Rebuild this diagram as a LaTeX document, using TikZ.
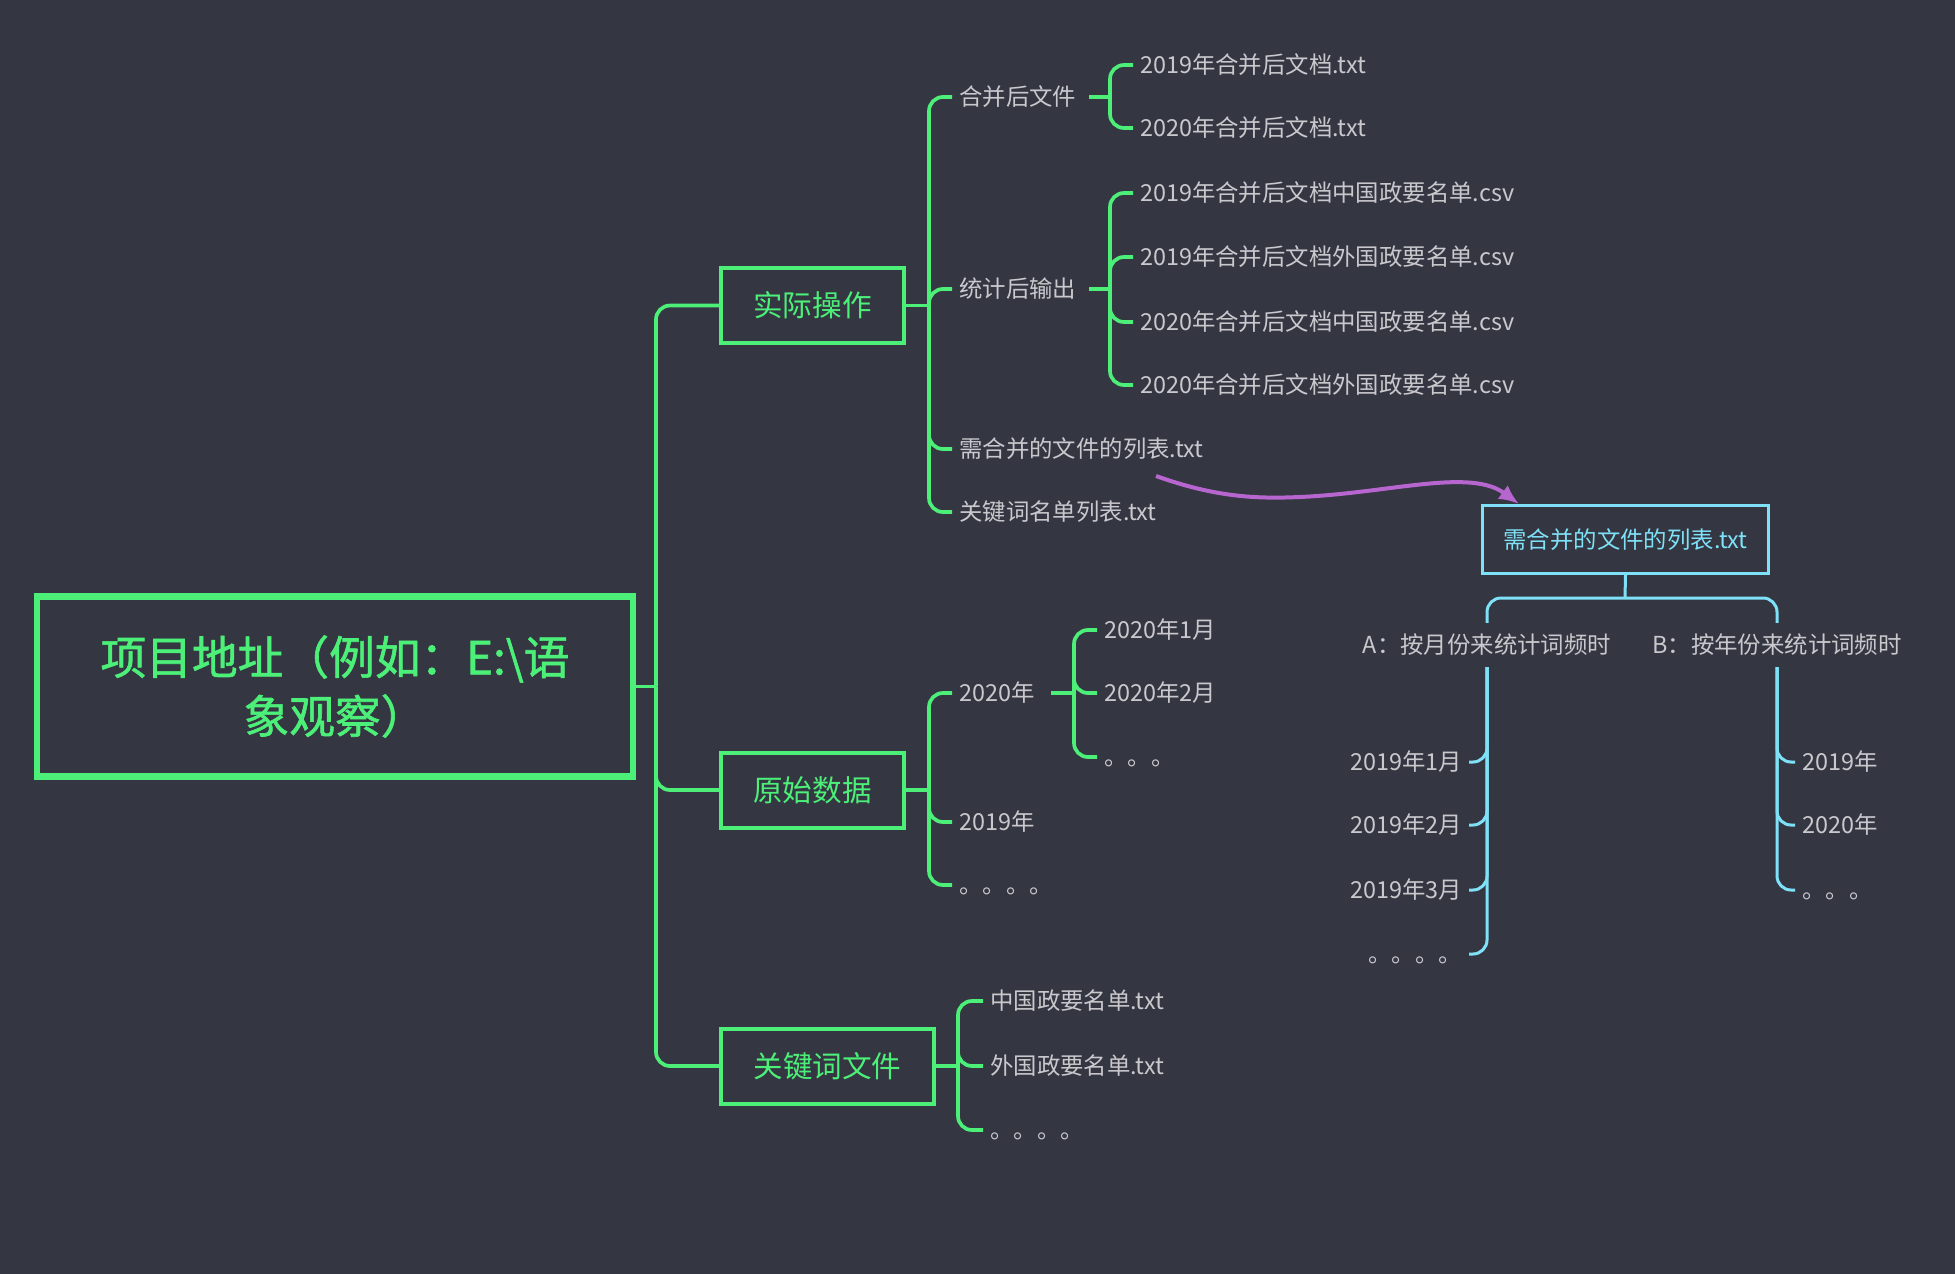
\documentclass[tikz,border=0pt]{standalone}
\usepackage{fontspec}
\setmainfont{Noto Sans CJK SC}
\newfontfamily\rootfont[FakeBold=1.3]{Noto Sans CJK SC}
\usetikzlibrary{arrows.meta}
\definecolor{bg}{HTML}{343642}
\definecolor{gr}{HTML}{4CEF78}
\definecolor{tx}{HTML}{C9C9CD}
\definecolor{bl}{HTML}{7FE1F7}
\definecolor{pu}{HTML}{B866CF}
\begin{document}
\begin{tikzpicture}[x=1pt,y=-1pt,
  gl/.style={draw=gr,line width=3.7pt,rounded corners=14pt},
  bll/.style={draw=bl,line width=3pt,rounded corners=14pt},
  lf/.style={text=tx,font=\fontsize{23.4}{28}\selectfont,inner xsep=7pt,inner ysep=0pt,text height=20pt,text depth=3pt,anchor=west},
  lfr/.style={lf,anchor=east},
  brbox/.style={draw=gr,line width=4pt,text=gr,font=\fontsize{29.6}{34}\selectfont,minimum height=75pt,minimum width=183pt,inner sep=0pt},
]
\fill[bg] (0,0) rectangle (1955,1274);

% root
\node[draw=gr,line width=6.5pt,text=gr,font=\fontsize{45.7}{59}\selectfont\rootfont,minimum width=596pt,minimum height=180pt,align=center] (root) at (335,686.5) {项目地址（例如：E:\textbackslash 语\\象观察）};

% main branches
\node[brbox] (sj) at (812.5,305.5) {实际操作};
\node[brbox] (ys) at (812.5,790) {原始数据};
\node[brbox,minimum width=213pt] (gj) at (827.5,1066) {关键词文件};

\coordinate (t0) at (656,686.5);
\draw[gl] (root.east) -- (t0);
\draw[gl] (t0) |- (sj.west);
\draw[gl] (t0) |- (ys.west);
\draw[gl] (t0) |- (gj.west);

% 实际操作 children
\node[lf] (hb) at (952,97) {合并后文件};
\node[lf] (tj) at (952,289) {统计后输出};
\node[lf] (xq) at (952,449) {需合并的文件的列表.txt};
\node[lf] (gjm) at (952,512) {关键词名单列表.txt};
\coordinate (s1) at (929,305.5);
\draw[gl] (sj.east) -- (s1);
\foreach \n in {hb,tj,xq,gjm} \draw[gl] (s1) |- (\n.west);

% 合并后文件 children
\node[lf] (h19) at (1133,65) {2019年合并后文档.txt};
\node[lf] (h20) at (1133,128) {2020年合并后文档.txt};
\coordinate (h1) at (1110,97);
\draw[gl] ([xshift=6pt]hb.east) -- (h1);
\foreach \n in {h19,h20} \draw[gl] (h1) |- (\n.west);

% 统计后输出 children
\node[lf] (c1) at (1133,193) {2019年合并后文档中国政要名单.csv};
\node[lf] (c2) at (1133,257) {2019年合并后文档外国政要名单.csv};
\node[lf] (c3) at (1133,322) {2020年合并后文档中国政要名单.csv};
\node[lf] (c4) at (1133,385) {2020年合并后文档外国政要名单.csv};
\coordinate (t1) at (1110,289);
\draw[gl] ([xshift=6pt]tj.east) -- (t1);
\foreach \n in {c1,c2,c3,c4} \draw[gl] (t1) |- (\n.west);

% 原始数据 children
\node[lf] (y20) at (952,693) {2020年};
\node[lf] (y19) at (952,822) {2019年};
\node[lf] (ydot) at (952,885) {。。。。};
\coordinate (y1) at (929,790);
\draw[gl] (ys.east) -- (y1);
\foreach \n in {y20,y19,ydot} \draw[gl] (y1) |- (\n.west);

% 2020年 children
\node[lf] (m1) at (1097,630) {2020年1月};
\node[lf] (m2) at (1097,693) {2020年2月};
\node[lf] (m3) at (1097,757) {。。。};
\coordinate (y2) at (1074,693);
\draw[gl] ([xshift=9pt]y20.east) -- (y2);
\foreach \n in {m1,m2,m3} \draw[gl] (y2) |- (\n.west);

% 关键词文件 children
\node[lf] (k1) at (983,1001) {中国政要名单.txt};
\node[lf] (k2) at (983,1066) {外国政要名单.txt};
\node[lf] (k3) at (983,1130) {。。。。};
\coordinate (g1) at (958,1066);
\draw[gl] (gj.east) -- (g1);
\foreach \n in {k1,k2,k3} \draw[gl] (g1) |- (\n.west);

% blue part
\node[draw=bl,line width=3pt,text=bl,font=\fontsize{23.4}{28}\selectfont,minimum width=286pt,minimum height=68pt,inner sep=0pt] (bb) at (1625.5,539.5) {需合并的文件的列表.txt};
\node[lf,anchor=center,minimum height=44pt] (ba) at (1487,645) {A：按月份来统计词频时};
\node[lf,anchor=center,minimum height=44pt] (bB) at (1777,645) {B：按年份来统计词频时};
\coordinate (bj) at (1625,598);
\draw[bll] (bb.south) -- (bj);
\draw[bll] (bj) -| (ba.north);
\draw[bll] (bj) -| (bB.north);

\node[lfr] (a1) at (1469,762) {2019年1月};
\node[lfr] (a2) at (1469,825) {2019年2月};
\node[lfr] (a3) at (1469,890) {2019年3月};
\node[lfr] (a4) at (1469,954) {。。。。};
\foreach \n in {a1,a2,a3,a4} \draw[bll] (ba.south) |- (\n.east);

\node[lf] (b1) at (1795,762) {2019年};
\node[lf] (b2) at (1795,825) {2020年};
\node[lf] (b3) at (1795,890) {。。。};
\foreach \n in {b1,b2,b3} \draw[bll] (bB.south) |- (\n.west);

% purple relation arrow
\coordinate (ps) at (1156,476);
\draw[pu,line width=4pt,-{Latex[length=20pt,width=17pt]}] (ps) .. controls (1215,497) and (1255,499) .. (1300,497) .. controls (1390,493) and (1470,468) .. ([xshift=38pt]bb.north west);
\end{tikzpicture}
\end{document}
